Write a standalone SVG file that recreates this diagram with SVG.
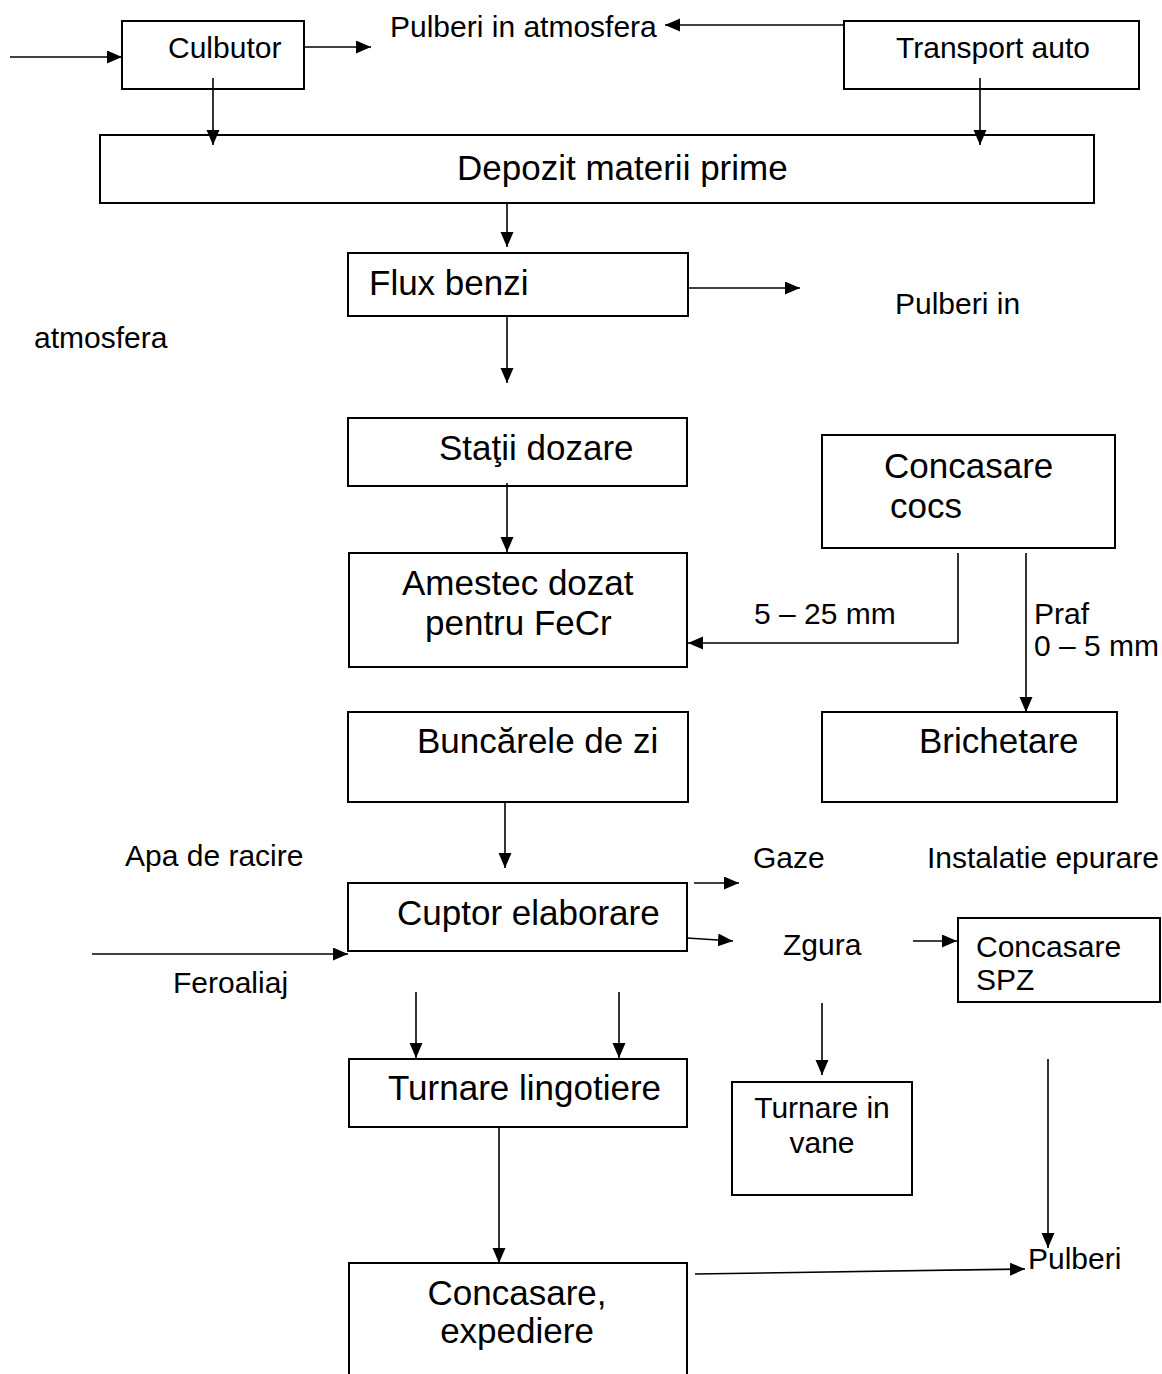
<svg xmlns="http://www.w3.org/2000/svg" width="1162" height="1374" viewBox="0 0 1162 1374">
  <style>
    .box { fill: #ffffff; stroke: #000000; stroke-width: 2; }
    .open { fill: none; stroke: #000000; stroke-width: 2; }
    .t { font-family: "Liberation Sans", Arial, sans-serif; fill: #000000; }
    .s { font-size: 30px; }
    .l { font-size: 35px; }
    .mid { text-anchor: middle; }
    .conn line, .conn polyline { fill: none; stroke: #000000; stroke-width: 1.6; marker-end: url(#arrow); }
  </style>
  <defs>
    <marker id="arrow" markerUnits="userSpaceOnUse" markerWidth="16" markerHeight="14" refX="15" refY="6.5" orient="auto">
      <path d="M0,0 L15,6.5 L0,13 z" fill="#000000"/>
    </marker>
  </defs>
  <rect width="1162" height="1374" fill="#ffffff"/>

  <g id="culbutor">
    <rect class="box" x="122" y="21" width="182" height="68"/>
    <text class="t s" x="168" y="58">Culbutor</text>
  </g>
  <g id="transport-auto">
    <rect class="box" x="844" y="21" width="295" height="68"/>
    <text class="t s" x="896" y="58">Transport auto</text>
  </g>
  <g id="pulberi-atmosfera-1">
    <text class="t s" x="390" y="37">Pulberi in atmosfera</text>
  </g>
  <g id="depozit">
    <rect class="box" x="100" y="135" width="994" height="68"/>
    <text class="t l" x="457" y="180">Depozit materii prime</text>
  </g>
  <g id="flux-benzi">
    <rect class="box" x="348" y="253" width="340" height="63"/>
    <text class="t l" x="369" y="295">Flux benzi</text>
  </g>
  <g id="pulberi-atmosfera-2">
    <text class="t s" x="895" y="314">Pulberi in</text>
    <text class="t s" x="34" y="348">atmosfera</text>
  </g>
  <g id="statii-dozare">
    <rect class="box" x="348" y="418" width="339" height="68"/>
    <text class="t l" x="439" y="460">Staţii dozare</text>
  </g>
  <g id="amestec">
    <rect class="box" x="349" y="553" width="338" height="114"/>
    <text class="t l" x="402" y="595">Amestec dozat</text>
    <text class="t l" x="425" y="635">pentru FeCr</text>
  </g>
  <g id="concasare-cocs">
    <rect class="box" x="822" y="435" width="293" height="113"/>
    <text class="t l" x="884" y="478">Concasare</text>
    <text class="t l" x="890" y="518">cocs</text>
  </g>
  <g id="labels-cocs">
    <text class="t s" x="754" y="624">5 – 25 mm</text>
    <text class="t s" x="1034" y="624">Praf</text>
    <text class="t s" x="1034" y="656">0 – 5 mm</text>
  </g>
  <g id="buncarele">
    <rect class="box" x="348" y="712" width="340" height="90"/>
    <text class="t l" x="417" y="753">Buncărele de zi</text>
  </g>
  <g id="brichetare">
    <rect class="box" x="822" y="712" width="295" height="90"/>
    <text class="t l" x="919" y="753">Brichetare</text>
  </g>
  <g id="labels-cuptor">
    <text class="t s" x="125" y="866">Apa de racire</text>
    <text class="t s" x="753" y="868">Gaze</text>
    <text class="t s" x="927" y="868">Instalatie epurare</text>
    <text class="t s" x="783" y="955">Zgura</text>
    <text class="t s" x="173" y="993">Feroaliaj</text>
  </g>
  <g id="cuptor">
    <rect class="box" x="348" y="883" width="339" height="68"/>
    <text class="t l" x="397" y="925">Cuptor elaborare</text>
  </g>
  <g id="concasare-spz">
    <rect class="box" x="958" y="918" width="202" height="84"/>
    <text class="t s" x="976" y="957">Concasare</text>
    <text class="t s" x="976" y="990">SPZ</text>
  </g>
  <g id="turnare-lingotiere">
    <rect class="box" x="349" y="1059" width="338" height="68"/>
    <text class="t l" x="388" y="1100">Turnare lingotiere</text>
  </g>
  <g id="turnare-vane">
    <rect class="box" x="732" y="1082" width="180" height="113"/>
    <text class="t s mid" x="822" y="1118">Turnare in</text>
    <text class="t s mid" x="822" y="1153">vane</text>
  </g>
  <g id="pulberi">
    <text class="t s" x="1028" y="1269">Pulberi</text>
  </g>
  <g id="concasare-expediere">
    <path class="open" d="M349,1374 V1263 H687 V1374"/>
    <text class="t l mid" x="517" y="1305">Concasare,</text>
    <text class="t l mid" x="517" y="1343">expediere</text>
  </g>

  <!-- process flow connectors, drawn over the boxes so the arrow tips stay visible -->
  <g id="connectors" class="conn">
    <line x1="10" y1="57" x2="122" y2="57"/>
    <line x1="304" y1="47" x2="371" y2="47"/>
    <line x1="844" y1="25" x2="665" y2="25"/>
    <line x1="213" y1="78" x2="213" y2="145"/>
    <line x1="980" y1="78" x2="980" y2="145"/>
    <line x1="507" y1="203" x2="507" y2="247"/>
    <line x1="688" y1="288" x2="800" y2="288"/>
    <line x1="507" y1="316" x2="507" y2="383"/>
    <line x1="507" y1="483" x2="507" y2="552"/>
    <polyline points="958,553 958,643 688,643"/>
    <line x1="1026" y1="553" x2="1026" y2="712"/>
    <line x1="505" y1="802" x2="505" y2="868"/>
    <line x1="694" y1="883" x2="739" y2="883"/>
    <line x1="687" y1="938" x2="733" y2="941"/>
    <line x1="913" y1="941" x2="957" y2="941"/>
    <line x1="92" y1="954" x2="348" y2="954"/>
    <line x1="416" y1="992" x2="416" y2="1058"/>
    <line x1="619" y1="992" x2="619" y2="1058"/>
    <line x1="822" y1="1003" x2="822" y2="1075"/>
    <line x1="499" y1="1127" x2="499" y2="1263"/>
    <line x1="1048" y1="1059" x2="1048" y2="1248"/>
    <line x1="695" y1="1274" x2="1025" y2="1269"/>
  </g>
</svg>
